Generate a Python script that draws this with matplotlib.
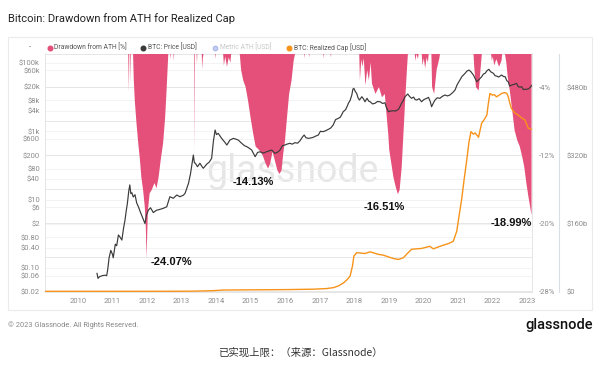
import matplotlib
matplotlib.use("Agg")
import matplotlib.pyplot as plt
from matplotlib.lines import Line2D
from matplotlib.patches import Rectangle
from matplotlib.ticker import NullLocator

# ---- data ----
dd_year = [2009.04, 2011.44, 2011.46, 2011.47, 2011.50, 2011.51, 2011.52,
           2011.58, 2011.60, 2011.63, 2011.68, 2011.73, 2011.78, 2011.82, 2011.87, 2011.92, 2011.95, 2011.97,
           2012.01, 2012.06, 2012.12, 2012.20, 2012.26, 2012.32, 2012.38, 2012.45, 2012.51, 2012.55, 2012.60,
           2012.65, 2012.66, 2012.67, 2012.75, 2012.76, 2012.77,
           2013.35, 2013.36, 2013.37, 2013.42, 2013.43, 2013.44, 2013.57, 2013.58, 2013.60, 2013.62,
           2013.96, 2013.97, 2013.98,
           2014.19, 2014.21, 2014.25, 2014.30, 2014.35, 2014.40, 2014.42,
           2014.67, 2014.71, 2014.77, 2014.84, 2014.91, 2014.98, 2015.06, 2015.13, 2015.23, 2015.33, 2015.42,
           2015.49, 2015.55, 2015.62, 2015.69, 2015.76, 2015.82, 2015.88, 2015.93, 2015.98, 2016.04, 2016.10,
           2016.17, 2016.23, 2016.27,
           2016.54, 2016.55, 2016.56, 2016.67, 2016.68, 2016.69,
           2017.09, 2017.10, 2017.11, 2017.30, 2017.31, 2017.32,
           2018.13, 2018.15, 2018.19, 2018.22, 2018.26, 2018.31, 2018.36, 2018.41, 2018.46, 2018.50, 2018.60,
           2018.70, 2018.79, 2018.87, 2018.91, 2018.97, 2019.00, 2019.06, 2019.12, 2019.19, 2019.25, 2019.30,
           2019.36, 2019.41, 2019.46, 2019.51, 2019.54,
           2019.74, 2019.75, 2019.79, 2019.83, 2019.85, 2019.94, 2019.96, 2020.00, 2020.04, 2020.08, 2020.12,
           2020.14, 2020.22, 2020.24, 2020.30, 2020.37, 2020.45, 2020.47,
           2021.44, 2021.46, 2021.51, 2021.59, 2021.66, 2021.68,
           2021.95, 2021.97, 2022.00, 2022.04, 2022.10, 2022.18, 2022.25, 2022.27,
           2022.35, 2022.39, 2022.43, 2022.49, 2022.56, 2022.63, 2022.71, 2022.78, 2022.85, 2022.91, 2022.97,
           2023.03, 2023.08, 2023.12]
dd_val = [0, 0, -4.5, 0, 0, -3.5, 0,
          0, -3.0, -5.5, -8.2, -10.5, -12.5, -14.5, -16.0, -18.0, -20.5, -24.07,
          -18.4, -16.4, -16.0, -15.2, -15.8, -14.5, -12.5, -10.5, -7.4, -4.3, 0,
          0, -0.6, 0, 0, -0.8, 0,
          0, -11.7, 0, 0, -1.2, 0, 0, -1.8, -0.5, 0,
          0, -0.6, 0,
          0, -1.35, -0.3, -1.5, -0.4, -1.0, 0,
          0, -1.9, -3.1, -3.9, -5.5, -7.4, -9.4, -10.9, -11.3, -11.9, -12.9,
          -13.5, -12.9, -11.5, -12.6, -13.7, -14.13, -13.7, -11.7, -10.2, -7.4, -4.7,
          -3.1, -0.8, 0,
          0, -0.5, 0, 0, -0.4, 0,
          0, -0.5, 0, 0, -0.4, 0,
          0, -3.1, -0.6, -1.5, -0.5, -3.7, -1.9, -3.1, -1.0, -3.5, -4.7,
          -3.9, -5.1, -4.7, -6.6, -9.4, -11.3, -12.9, -14.5, -15.7, -16.51, -16.0,
          -13.3, -9.4, -5.5, -1.9, 0,
          0, -0.8, 0, -0.6, 0, 0, -1.35, -0.5, -1.7, -0.4, -1.0,
          0, 0, -3.9, -4.7, -1.9, -0.5, 0,
          0, -1.5, -3.9, -4.3, -1.0, 0,
          0, -0.8, -0.3, -1.35, -0.6, -1.5, -0.8, 0,
          0, -1.0, -2.7, -4.3, -6.6, -9.0, -10.2, -10.9, -12.1, -13.3, -15.2,
          -16.8, -18.0, -18.99]

price_year = [2010.55, 2010.58, 2010.62, 2010.70, 2010.78, 2010.83, 2010.86, 2010.90, 2010.95, 2011.00,
              2011.02, 2011.08, 2011.12, 2011.17, 2011.22, 2011.27, 2011.32, 2011.36, 2011.40, 2011.43,
              2011.47, 2011.50, 2011.53, 2011.56, 2011.60, 2011.65, 2011.70, 2011.75, 2011.80, 2011.87,
              2011.94, 2011.98, 2012.04, 2012.10, 2012.18, 2012.27, 2012.37, 2012.47, 2012.57, 2012.62,
              2012.66, 2012.76, 2012.86, 2012.95, 2013.05, 2013.10, 2013.20, 2013.26, 2013.34, 2013.37,
              2013.40, 2013.46, 2013.53, 2013.60, 2013.63, 2013.73, 2013.80, 2013.87, 2013.92, 2013.97,
              2014.01, 2014.06, 2014.16, 2014.25, 2014.31, 2014.40, 2014.50, 2014.57, 2014.64, 2014.74,
              2014.82, 2014.89, 2014.96, 2015.03, 2015.13, 2015.20, 2015.27, 2015.36, 2015.46, 2015.55,
              2015.61, 2015.70, 2015.78, 2015.85, 2015.92, 2015.99, 2016.05, 2016.14, 2016.20, 2016.28,
              2016.36, 2016.43, 2016.50, 2016.55, 2016.60, 2016.67, 2016.75, 2016.81, 2016.88, 2016.96,
              2017.02, 2017.10, 2017.18, 2017.25, 2017.32, 2017.39, 2017.46, 2017.54, 2017.60, 2017.68,
              2017.75, 2017.80, 2017.83, 2017.88, 2017.93, 2017.96, 2017.99, 2018.03, 2018.07, 2018.11,
              2018.15, 2018.22, 2018.27, 2018.31, 2018.37, 2018.42, 2018.46, 2018.53, 2018.60, 2018.67,
              2018.75, 2018.82, 2018.89, 2018.93, 2018.99, 2019.05, 2019.13, 2019.20, 2019.28, 2019.33,
              2019.37, 2019.42, 2019.47, 2019.52, 2019.55, 2019.60, 2019.66, 2019.72, 2019.76, 2019.81,
              2019.88, 2019.95, 2020.02, 2020.10, 2020.15, 2020.20, 2020.24, 2020.30, 2020.34, 2020.40,
              2020.48, 2020.55, 2020.63, 2020.70, 2020.77, 2020.85, 2020.92, 2020.98, 2021.06, 2021.12,
              2021.21, 2021.26, 2021.32, 2021.38, 2021.45, 2021.50, 2021.55, 2021.62, 2021.69, 2021.74,
              2021.79, 2021.85, 2021.90, 2021.95, 2022.03, 2022.08, 2022.12, 2022.18, 2022.27, 2022.32,
              2022.37, 2022.42, 2022.46, 2022.50, 2022.56, 2022.63, 2022.70, 2022.75, 2022.80, 2022.85,
              2022.90, 2022.95, 2022.99, 2023.05, 2023.09, 2023.14]
price_usd = [0.07, 0.05, 0.056, 0.06, 0.062, 0.06, 0.09, 0.2, 0.33, 0.25,
             0.2, 0.5, 0.45, 0.93, 0.8, 0.66, 1.5, 2.5, 5, 7.8,
             18, 27, 15, 16, 12, 14, 8, 6.2, 4.5, 3,
             2.0, 3.5, 5.0, 5.8, 4.2, 4.9, 5.2, 5.6, 6.2, 9.0,
             12.2, 11, 13.7, 12.2, 13.5, 15.3, 30, 59, 202, 120,
             116, 92, 116, 90, 83, 110, 125, 162, 500, 1090,
             800, 870, 620, 480, 396, 555, 620, 590, 555, 445,
             380, 354, 320, 283, 181, 240, 252, 230, 252, 270,
             283, 227, 245, 283, 380, 396, 420, 445, 420, 463,
             450, 530, 680, 778, 650, 620, 640, 665, 720, 778,
             1000, 973, 1050, 1140, 1250, 1524, 2200, 2390, 2600, 3730,
             4300, 5500, 6570, 8000, 11500, 17000, 18000, 14500, 12900, 9500,
             8200, 10250, 8800, 7300, 9200, 7600, 7300, 6300, 6570, 7400,
             7300, 6500, 6840, 5000, 3730, 3900, 3990, 3900, 4390, 5400,
             6570, 8000, 10250, 11500, 12300, 10500, 9200, 10000, 8500, 8200,
             9000, 7300, 8500, 9200, 9800, 7500, 5220, 7000, 8200, 9500,
             9200, 10500, 11500, 10800, 11500, 13500, 16100, 23000, 31500, 40000,
             49500, 57000, 61800, 55000, 44200, 35000, 28100, 33000, 39400, 47000,
             49500, 60000, 64900, 55000, 49500, 42000, 41300, 38500, 44200, 40000,
             39400, 30000, 28100, 21000, 22500, 23500, 25200, 20000, 19500, 20100,
             16500, 17000, 16800, 17500, 19000, 22000]

rc_year = [2009.04, 2010.55, 2011.5, 2012.5, 2013.3, 2013.9, 2014.2, 2015.0, 2016.0, 2016.8,
           2017.2, 2017.4, 2017.55, 2017.69, 2017.8, 2017.88, 2017.95, 2017.99, 2018.07, 2018.2,
           2018.31, 2018.46, 2018.7, 2018.85, 2018.99, 2019.15, 2019.28, 2019.42, 2019.55, 2019.66,
           2019.8, 2019.95, 2020.1, 2020.19, 2020.29, 2020.45, 2020.63, 2020.75, 2020.87, 2020.97,
           2021.04, 2021.11, 2021.18, 2021.26, 2021.32, 2021.38, 2021.45, 2021.5, 2021.6, 2021.69,
           2021.77, 2021.84, 2021.88, 2021.93, 2022.0, 2022.06, 2022.12, 2022.2, 2022.27, 2022.36,
           2022.42, 2022.46, 2022.5, 2022.55, 2022.65, 2022.75, 2022.85, 2022.94, 2023.0, 2023.04,
           2023.12]
rc_bn = [0, 0, 0.05, 0.1, 0.3, 1.5, 3.0, 3.5, 4.0, 5.0,
         6.5, 8.7, 13, 20, 28, 36, 60, 83, 91, 90,
         89, 93, 87, 85, 81, 77, 75, 79, 90, 99,
         100, 101, 104, 106, 100, 105, 110, 113, 118, 142,
         180, 216, 262, 310, 350, 376, 370, 373, 363, 396,
         405, 415, 440, 466, 462, 463, 458, 462, 466, 468,
         466, 458, 445, 431, 420, 415, 408, 404, 392, 384,
         382]

year_ticks = list(range(2010, 2024))
price_ticks = [0.02, 0.06, 0.10, 0.40, 0.80, 2, 6, 10, 40, 80, 200, 600, 1000, 4000, 8000, 20000, 60000, 100000]
price_labels = ['$0.02', '$0.06', '$0.10', '$0.40', '$0.80', '$2', '$6', '$10', '$40', '$80',
                '$200', '$600', '$1k', '$4k', '$8k', '$20k', '$60k', '$100k']
dd_ticks = [-4, -12, -20, -28]
dd_labels = ['-4%', '-12%', '-20%', '-28%']
rc_ticks = [0, 160, 320, 480]
rc_labels = ['$0', '$160b', '$320b', '$480b']
lows = [(-24.07, 2012.11, -24.6, 'left'), (-14.13, 2014.49, -15.1, 'left'),
        (-16.51, 2018.28, -18.1, 'left'), (-18.99, 2023.15, -19.9, 'right')]

PINK = '#e4507a'
ORANGE = '#f7931a'
DARK = '#3a3a3a'
TICK = '#8c8c8c'
FONT = 'Roboto'

plt.rcParams['font.family'] = FONT

fig = plt.figure(figsize=(6, 3.65), dpi=100)
rect = [45 / 600, 73 / 365, 487 / 600, 238.5 / 365]
xlim = (2009.044, 2023.148)

# card border
fig.patches.append(Rectangle((8 / 600, 55 / 365), 584 / 600, 273 / 365, transform=fig.transFigure,
                             fill=False, edgecolor='#ebebeb', lw=0.8, zorder=0))

# price axis (log) - grid and left labels
ax_p = fig.add_axes(rect)
ax_p.set_yscale('log')
ax_p.set_xlim(*xlim)
ax_p.set_ylim(0.02, 10 ** 5.274)
ax_p.set_yticks(price_ticks, price_labels)
ax_p.yaxis.set_minor_locator(NullLocator())
ax_p.set_xticks(year_ticks, [str(y) for y in year_ticks])
ax_p.tick_params(length=0, labelsize=5.5, labelcolor=TICK)
ax_p.tick_params(axis='y', pad=3.6)
ax_p.tick_params(axis='x', pad=4.3)
ax_p.grid(axis='y', color='#f1f1f1', lw=0.6)
ax_p.set_axisbelow(True)
for s in ax_p.spines.values():
    s.set_color('#e6e6e6')
    s.set_linewidth(0.7)
ax_p.text(0.487, 0.529, 'glassnode', transform=fig.transFigure, fontsize=27, color='#e6e6e6',
          ha='center', va='center', zorder=0.5)

# drawdown axis
ax_dd = ax_p.twinx()
ax_dd.set_ylim(-28.08, 0)
ax_dd.fill_between(dd_year, dd_val, 0, color=PINK, lw=0, zorder=1)
ax_dd.set_yticks(dd_ticks, dd_labels)
ax_dd.set_yticks([-8, -16, -24], minor=True)
ax_dd.tick_params(which='both', length=0, labelsize=5.5, labelcolor=TICK, pad=5)
ax_dd.grid(axis='y', which='both', color='#e3e3e3', lw=0.6)
ax_dd.set_axisbelow(True)
for s in ax_dd.spines.values():
    s.set_visible(False)
for val, tx, ty, ha in lows:
    ax_dd.text(tx, ty, f'{val:.2f}%', fontsize=8, fontweight='bold', family='Liberation Sans',
               ha=ha, va='center', color='#111111', zorder=4)

# realized cap axis
ax_rc = ax_p.twinx()
ax_rc.set_ylim(-1.6, 560)
ax_rc.plot(rc_year, rc_bn, color=ORANGE, lw=1.0)
ax_rc.set_yticks(rc_ticks, rc_labels)
ax_rc.tick_params(length=0, labelsize=5.5, labelcolor=TICK, pad=5.5)
for s in ax_rc.spines.values():
    s.set_visible(False)
ax_rc.spines['right'].set_visible(True)
ax_rc.spines['right'].set_position(('outward', 19.4))
ax_rc.spines['right'].set_color('#d9dee6')
ax_rc.spines['right'].set_linewidth(0.8)

# price line on top
ax_l = fig.add_axes(rect, sharex=ax_p, sharey=ax_p)
ax_l.patch.set_visible(False)
ax_l.axis('off')
ax_l.plot(price_year, price_usd, color=DARK, lw=0.85)
ax_l.set_xlim(*xlim)

# title and legend
fig.text(8 / 600, 1 - 19 / 365, 'Bitcoin: Drawdown from ATH for Realized Cap', fontsize=8,
         color='#222222', va='center', ha='left')
ly = 1 - 47.5 / 365
fig.text(30 / 600, ly, '-', fontsize=5.5, color='#666666', va='center', ha='center')
legend = [(50, PINK, 'Drawdown from ATH [%]', '#555555'),
          (143, DARK, 'BTC: Price [USD]', '#555555'),
          (215, '#5a73d8', 'Metric ATH [USD]', '#c8c8c8'),
          (289, ORANGE, 'BTC: Realized Cap [USD]', '#555555')]
for lx, col, txt, tcol in legend:
    a = 0.35 if tcol == '#c8c8c8' else 1
    fig.add_artist(Line2D([lx / 600], [ly], marker='o', ms=3.3, color=col, alpha=a,
                          transform=fig.transFigure))
    fig.text((lx + 4.5) / 600, ly, txt, fontsize=4.9, color=tcol, va='center', ha='left')

# footer
fig.text(8 / 600, 1 - 325 / 365, '\u00a9 2023 Glassnode. All Rights Reserved.', fontsize=5.3,
         color='#888888', va='center', ha='left')
fig.text(593 / 600, 1 - 325 / 365, 'glassnode', fontsize=10.5, color='#111111', va='center',
         ha='right', fontweight='medium')
fig.text(300 / 600, 1 - 353 / 365, '已实现上限：（来源：Glassnode）', fontsize=7.5, color='#333333',
         va='center', ha='center', family=['Noto Sans CJK SC', 'DejaVu Sans'])

fig.savefig('out.png', dpi=100)
